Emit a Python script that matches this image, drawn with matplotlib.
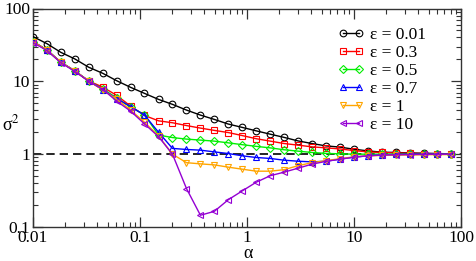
import matplotlib
matplotlib.use('Agg')
import matplotlib.pyplot as plt

plt.rcParams['font.family'] = ['Liberation Serif', 'DejaVu Serif']
plt.rcParams['mathtext.fontset'] = 'stix'

# -------------------------------
# data
# -------------------------------
alpha = [0.01, 0.0135, 0.0182, 0.0246, 0.0332, 0.0448, 0.0605, 0.0817, 0.110,
         0.149, 0.201, 0.272, 0.367, 0.495, 0.669, 0.903, 1.22, 1.65, 2.22,
         3.00, 4.05, 5.46, 7.38, 9.96, 13.4, 18.2, 24.5, 33.1, 44.7, 60.3, 81.4]

eps_001 = [41.1, 32.9, 25.0, 20.3, 15.6, 12.9, 10.2, 8.27, 6.84, 5.65, 4.83,
           4.03, 3.44, 3.0, 2.59, 2.33, 2.09, 1.88, 1.70, 1.52, 1.40, 1.30,
           1.25, 1.17, 1.11, 1.065, 1.055, 1.04, 1.03, 1.02, 1.01]
eps_03 = [35.1, 26.9, 18.3, 13.9, 10.1, 8.35, 6.42, 4.57, 3.4, 2.87, 2.70,
          2.47, 2.28, 2.12, 1.98, 1.80, 1.63, 1.51, 1.40, 1.33, 1.26, 1.22,
          1.18, 1.12, 1.075, 1.055, 1.04, 1.03, 1.02, 1.015, 1.01]
eps_05 = [35.1, 26.9, 18.3, 13.9, 10.1, 7.9, 5.9, 4.42, 3.49, 1.83, 1.69,
          1.61, 1.56, 1.51, 1.43, 1.35, 1.28, 1.22, 1.15, 1.10, 1.055, 1.025,
          1.01, 1.0, 1.0, 1.0, 1.0, 1.0, 1.0, 1.0, 1.0]
eps_07 = [35.1, 26.9, 18.3, 13.9, 10.1, 7.7, 5.8, 4.5, 3.44, 2.0, 1.20,
          1.16, 1.135, 1.075, 1.02, 0.95, 0.90, 0.873, 0.827, 0.80, 0.784,
          0.80, 0.854, 0.91, 0.95, 0.98, 0.99, 1.0, 1.0, 1.0, 1.0]
eps_1 = [35.1, 26.9, 18.3, 13.9, 10.1, 7.6, 5.7, 4.03, 2.75, 1.78, 1.0,
         0.764, 0.736, 0.713, 0.663, 0.622, 0.584, 0.584, 0.612, 0.695, 0.764,
         0.814, 0.867, 0.918, 0.948, 0.963, 0.969, 0.975, 0.981, 0.984, 0.987]
eps_10 = [34.0, 26.5, 18.0, 13.7, 10.0, 7.78, 5.35, 3.9, 2.61, 1.74, 1.0,
          0.337, 0.145, 0.164, 0.237, 0.313, 0.412, 0.506, 0.566, 0.642, 0.729,
          0.796, 0.853, 0.909, 0.948, 0.969, 0.978, 0.987, 0.994, 0.997, 1.0]

series = [
    (eps_001, 'ε = 0.01', 'black', 'o'),
    (eps_03, 'ε = 0.3', '#ff0000', 's'),
    (eps_05, 'ε = 0.5', '#00ee00', 'D'),
    (eps_07, 'ε = 0.7', '#0000ff', '^'),
    (eps_1, 'ε = 1', '#ffa500', 'v'),
    (eps_10, 'ε = 10', '#9400d3', '<'),
]

xticks = [0.01, 0.1, 1, 10, 100]
xtick_labels = ['0.01', '0.1', '1', '10', '100']
yticks = [0.1, 1, 10, 100]
ytick_labels = ['0.1', '1', '10', '100']

# -------------------------------
# plot
# -------------------------------
fig = plt.figure(figsize=(4.77, 2.61), dpi=100)
ax = fig.add_axes([33 / 477, 1 - 227 / 261, 428 / 477, 218.5 / 261])

ax.axhline(1.0, color='black', lw=1.2, ls=(0, (5, 3)), zorder=1)

for vals, label, color, marker in series:
    ms = 4.2 if marker == 'D' else 4.8
    ax.plot(alpha, vals, color=color, lw=1.0, marker=marker, ms=ms,
            mfc='none', mec=color, mew=0.8, label=label, zorder=3)

ax.set_xscale('log')
ax.set_yscale('log')
ax.set_xlim(0.01, 100)
ax.set_ylim(0.1, 100)
ax.set_xticks(xticks)
ax.set_xticklabels(xtick_labels)
ax.set_yticks(yticks)
ax.set_yticklabels(ytick_labels)

ax.tick_params(which='both', direction='in', top=True, right=True,
               labelsize=12.5, color='#333333')
ax.tick_params(which='major', length=7, width=0.9)
ax.tick_params(which='minor', length=3.5, width=0.8)
ax.tick_params(axis='x', pad=2.5)
ax.tick_params(axis='y', pad=2)
for sp in ax.spines.values():
    sp.set_linewidth(1.0)
    sp.set_color('#333333')

fig.text(248 / 477, 1 - 254 / 261, 'α', fontsize=13, ha='center', va='center')
fig.text(11 / 477, 1 - 124 / 261, 'σ$^2$', fontsize=13, ha='center', va='center')

ax.legend(loc='upper left', bbox_to_anchor=(0.712, 0.915), frameon=False,
          fontsize=12.5, numpoints=2, handlelength=1.5, handletextpad=0.35,
          labelspacing=0.1, borderpad=0, borderaxespad=0)

plt.savefig('out.png', dpi=100)
